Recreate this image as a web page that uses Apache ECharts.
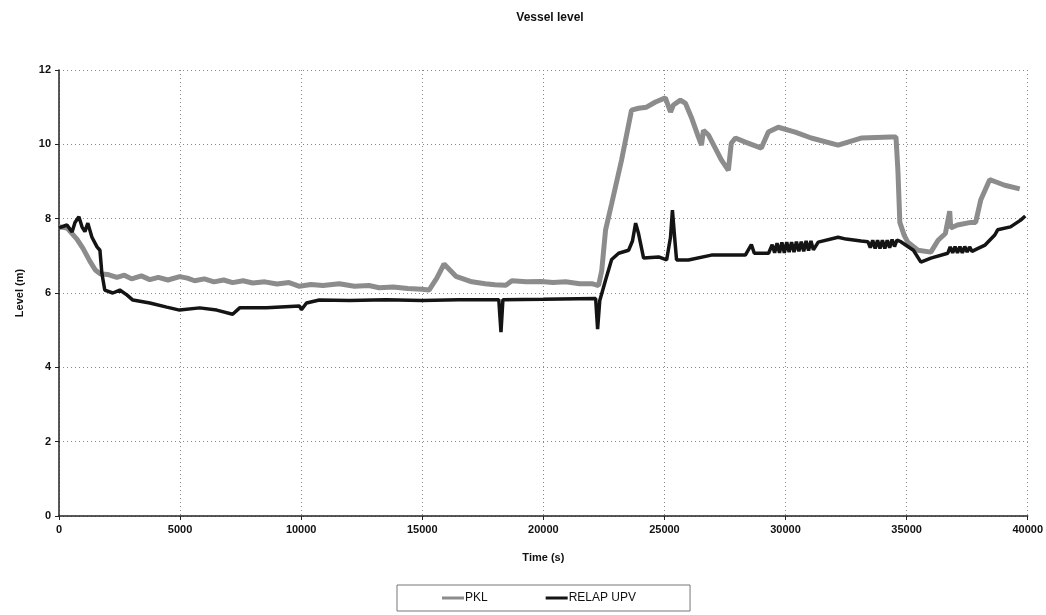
<!DOCTYPE html>
<html>
<head>
<meta charset="utf-8">
<script src="https://cdn.jsdelivr.net/npm/echarts@6/dist/echarts.min.js"></script>
<style>
  html, body { margin: 0; padding: 0; background: #fff; }
  #chart { width: 1046px; height: 615px; }
</style>
</head>
<body>
<div id="chart"></div>
<script>
// Vessel level over time: PKL test measurement vs. RELAP upper plenum/vessel
const seriesNames = ['PKL', 'RELAP UPV'];
const xTicks = [0, 5000, 10000, 15000, 20000, 25000, 30000, 35000, 40000];
const yTicks = [0, 2, 4, 6, 8, 10, 12];

// [time (s), level (m)]
const pklLevel = [
  [0,7.78],[330,7.75],[740,7.45],[990,7.2],[1280,6.85],[1500,6.62],[1690,6.52],[2000,6.5],
  [2390,6.42],[2700,6.48],[3000,6.38],[3400,6.46],[3750,6.36],[4100,6.42],[4500,6.35],
  [4980,6.44],[5300,6.4],[5600,6.33],[6000,6.38],[6400,6.3],[6800,6.35],[7170,6.28],
  [7600,6.33],[8000,6.27],[8500,6.3],[9000,6.24],[9500,6.28],[9930,6.18],[10400,6.23],
  [10900,6.2],[11570,6.25],[12200,6.18],[12800,6.2],[13220,6.14],[13800,6.16],[14400,6.12],
  [14990,6.1],[15280,6.08],[15600,6.4],[15900,6.78],[16390,6.45],[17050,6.3],[17600,6.25],
  [18000,6.22],[18450,6.21],[18700,6.33],[19300,6.3],[19900,6.31],[20400,6.28],[20920,6.3],
  [21500,6.25],[22000,6.25],[22280,6.2],[22410,6.6],[22570,7.7],[22820,8.4],[23230,9.58],
  [23640,10.92],[23930,10.97],[24260,11.0],[24630,11.14],[25040,11.25],[25250,10.87],
  [25370,11.06],[25660,11.19],[25870,11.1],[26110,10.73],[26400,10.2],[26530,9.98],
  [26610,10.38],[26820,10.25],[27350,9.58],[27640,9.3],[27760,10.03],[27930,10.17],
  [28340,10.06],[29000,9.9],[29290,10.33],[29700,10.46],[30400,10.33],[31060,10.17],
  [32170,9.98],[33120,10.17],[34350,10.2],[34560,10.2],[34640,9.3],[34720,7.9],[34900,7.55],
  [35050,7.37],[35470,7.15],[36000,7.1],[36300,7.42],[36600,7.6],[36780,8.2],[36820,7.75],
  [37100,7.83],[37650,7.9],[37850,7.9],[38060,8.5],[38430,9.05],[38640,9.0],[39050,8.9],
  [39670,8.8]
];

const relapLevel = [
  [0,7.75],[330,7.83],[540,7.64],[660,7.9],[820,8.05],[950,7.78],[1070,7.65],[1190,7.88],
  [1360,7.5],[1570,7.24],[1690,7.15],[1770,6.53],[1890,6.08],[2220,6.0],[2510,6.08],
  [2800,5.95],[3050,5.81],[3750,5.73],[4450,5.62],[4980,5.54],[5810,5.6],[6510,5.54],
  [7170,5.43],[7460,5.6],[8570,5.6],[9930,5.65],[10010,5.55],[10220,5.73],[10750,5.81],
  [12000,5.8],[13500,5.82],[15000,5.8],[16500,5.82],[18160,5.82],[18250,4.95],[18330,5.82],
  [20000,5.83],[22160,5.85],[22240,5.03],[22330,5.8],[22570,6.35],[22820,6.9],[23110,7.07],
  [23520,7.15],[23680,7.4],[23810,7.88],[23930,7.6],[24140,6.94],[24760,6.97],[25090,6.89],
  [25250,7.5],[25330,8.23],[25420,7.5],[25500,6.89],[25990,6.89],[26940,7.02],[28340,7.02],
  [28590,7.3],[28710,7.07],[29300,7.07],
  [29450,7.3],[29550,7.08],[29650,7.34],[29750,7.08],[29850,7.36],[29950,7.08],[30050,7.37],
  [30150,7.1],[30250,7.37],[30350,7.1],[30450,7.38],[30550,7.12],[30650,7.38],[30750,7.12],
  [30850,7.4],[30950,7.14],[31050,7.4],[31150,7.16],[31350,7.37],[32170,7.5],[32500,7.45],
  [33120,7.4],[33400,7.38],[33500,7.22],[33600,7.42],[33700,7.2],[33800,7.42],[33900,7.2],
  [34000,7.42],[34100,7.2],[34200,7.42],[34300,7.22],[34400,7.44],[34500,7.25],[34600,7.42],
  [34760,7.38],[35280,7.15],[35590,6.83],[36000,6.94],[36700,7.07],[36800,7.24],[36900,7.08],
  [37000,7.25],[37100,7.08],[37200,7.25],[37300,7.08],[37400,7.25],[37500,7.1],[37600,7.24],
  [37700,7.12],[37950,7.2],[38240,7.29],[38640,7.56],[38760,7.7],[39290,7.78],[39710,7.96],
  [39900,8.07]
];

const chart = echarts.init(document.getElementById('chart'), null, { renderer: 'canvas' });

const font = 'Liberation Sans, Arial, sans-serif';
const gridDots = { color: '#8a8a8a', width: 1, type: [1, 3] };

chart.setOption({
  animation: false,
  backgroundColor: '#ffffff',
  title: {
    text: 'Vessel level',
    left: 545,
    top: 7,
    textAlign: 'center',
    textStyle: { fontFamily: font, fontSize: 12, fontWeight: 'bold', color: '#111' }
  },
  legend: {
    data: seriesNames,
    left: 397,
    top: 585,
    padding: [7, 54, 7, 45],
    itemGap: 58,
    itemWidth: 22,
    itemHeight: 3,
    icon: 'rect',
    borderColor: '#777',
    borderWidth: 1,
    textStyle: { fontFamily: font, fontSize: 12, color: '#111', padding: [0, 0, 0, -4] }
  },
  grid: { left: 59, right: 16, top: 70, bottom: 99, containLabel: false },
  xAxis: {
    type: 'value',
    min: xTicks[0],
    max: xTicks[xTicks.length - 1],
    interval: 5000,
    name: 'Time (s)',
    nameLocation: 'middle',
    nameGap: 36,
    nameTextStyle: { fontFamily: font, fontSize: 11, fontWeight: 'bold', color: '#111' },
    axisLine: { show: true, onZero: false, lineStyle: { color: '#222', width: 1.5 } },
    axisTick: { show: true, length: 4, lineStyle: { color: '#222' } },
    axisLabel: {
      fontFamily: font, fontSize: 11, fontWeight: 'bold', color: '#111', margin: 8,
      formatter: (v) => String(v)
    },
    splitLine: { show: true, lineStyle: gridDots }
  },
  yAxis: {
    type: 'value',
    min: yTicks[0],
    max: yTicks[yTicks.length - 1],
    interval: 2,
    name: 'Level (m)',
    nameLocation: 'middle',
    nameGap: 34,
    nameTextStyle: { fontFamily: font, fontSize: 11, fontWeight: 'bold', color: '#111' },
    axisLine: { show: true, lineStyle: { color: '#222', width: 1.5 } },
    axisTick: { show: true, length: 4, lineStyle: { color: '#222' } },
    axisLabel: { fontFamily: font, fontSize: 11, fontWeight: 'bold', color: '#111', margin: 8 },
    splitLine: { show: true, lineStyle: gridDots }
  },
  series: [
    {
      name: seriesNames[0],
      type: 'line',
      data: pklLevel,
      showSymbol: false,
      symbol: 'none',
      color: '#8c8c8c',
      lineStyle: { color: '#8c8c8c', width: 5 },
      z: 2
    },
    {
      name: seriesNames[1],
      type: 'line',
      data: relapLevel,
      showSymbol: false,
      symbol: 'none',
      color: '#141414',
      lineStyle: { color: '#141414', width: 3.5 },
      z: 3
    }
  ]
});
</script>
</body>
</html>
